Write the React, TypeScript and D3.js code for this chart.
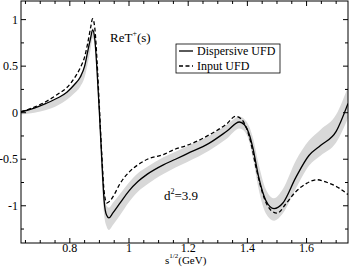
import React from 'react';
import * as d3 from 'd3';

// sqrt(s) grid, GeV
const sVals = [
  0.635, 0.68, 0.72, 0.76, 0.79, 0.815, 0.835, 0.85, 0.86, 0.87, 0.877, 0.884, 0.892, 0.9, 0.908, 0.916, 0.924,
  0.932, 0.945, 0.97, 1.0, 1.03, 1.062, 1.116, 1.157, 1.197, 1.27, 1.33, 1.373, 1.39, 1.405, 1.418, 1.438, 1.462,
  1.49, 1.52, 1.563, 1.608, 1.648, 1.7, 1.74,
];
const dispersive = [
  0.01, 0.05, 0.1, 0.16, 0.22, 0.3, 0.38, 0.5, 0.65, 0.8, 0.89, 0.8, 0.45, 0.0, -0.5, -0.95, -1.1,
  -1.13, -1.08, -0.97, -0.84, -0.74, -0.66, -0.56, -0.5, -0.44, -0.33, -0.2, -0.1, -0.13, -0.22, -0.37, -0.69, -0.94,
  -1.03, -0.97, -0.7, -0.46, -0.35, -0.2, 0.1,
];
const bandLow = [
  -0.02, 0.0, 0.03, 0.08, 0.14, 0.21, 0.28, 0.38, 0.52, 0.68, 0.8, 0.74, 0.35, -0.15, -0.7, -1.1, -1.22,
  -1.26, -1.21, -1.1, -0.96, -0.85, -0.77, -0.66, -0.59, -0.53, -0.41, -0.28, -0.17, -0.2, -0.3, -0.48, -0.82, -1.08,
  -1.16, -1.08, -0.82, -0.57, -0.46, -0.32, -0.06,
];
const bandHigh = [
  0.01, 0.05, 0.1, 0.16, 0.22, 0.31, 0.4, 0.52, 0.67, 0.82, 0.91, 0.86, 0.55, 0.1, -0.35, -0.8, -1.0,
  -1.02, -0.97, -0.87, -0.75, -0.65, -0.58, -0.48, -0.42, -0.36, -0.25, -0.13, -0.04, -0.07, -0.14, -0.26, -0.55, -0.82,
  -0.92, -0.82, -0.52, -0.3, -0.18, -0.02, 0.28,
];

const sInput = [
  0.635, 0.68, 0.72, 0.76, 0.79, 0.815, 0.835, 0.85, 0.86, 0.87, 0.877, 0.884, 0.892, 0.9, 0.908, 0.916, 0.925,
  0.935, 0.95, 0.97, 1.0, 1.03, 1.062, 1.116, 1.157, 1.197, 1.27, 1.33, 1.36, 1.38, 1.395, 1.41, 1.43, 1.455, 1.48,
  1.5, 1.53, 1.56, 1.6, 1.635, 1.67, 1.71, 1.74,
];
const inputUfd = [
  0.01, 0.06, 0.12, 0.2, 0.27, 0.37, 0.48, 0.6, 0.74, 0.91, 1.01, 0.92, 0.55, 0.05, -0.45, -0.85, -0.97,
  -0.95, -0.88, -0.76, -0.64, -0.56, -0.5, -0.45, -0.39, -0.35, -0.24, -0.12, -0.04, -0.07, -0.15, -0.3, -0.6, -0.9,
  -1.05, -1.08, -0.98, -0.86, -0.76, -0.72, -0.75, -0.81, -0.88,
];

const xTicks = [0.8, 1.0, 1.2, 1.4, 1.6];
const xTickLabels = ['0.8', '1', '1.2', '1.4', '1.6'];
const yTicks = [-1, -0.5, 0, 0.5, 1];
const yTickLabels = ['-1', '-0.5', '0', '0.5', '1'];

const W = 349;
const H = 268;
const L = 21;
const R = 348;
const T = 1;
const B = 243;
const font = "'Liberation Serif', 'Times New Roman', Times, 'DejaVu Serif', serif";

export default function App() {
  const x = d3.scaleLinear().domain([0.635, 1.74]).range([L, R]);
  const y = d3.scaleLinear().domain([-1.4, 1.2]).range([B, T]);

  const solidPts = sVals.map((s, i) => [s, dispersive[i]] as [number, number]);
  const dashPts = sInput.map((s, i) => [s, inputUfd[i]] as [number, number]);
  const bandPts = sVals.map((s, i) => ({ s, lo: bandLow[i], hi: bandHigh[i] }));

  const line = d3
    .line<[number, number]>()
    .x(d => x(d[0]))
    .y(d => y(d[1]))
    .curve(d3.curveMonotoneX);
  const area = d3
    .area<{ s: number; lo: number; hi: number }>()
    .x(d => x(d.s))
    .y0(d => y(d.lo))
    .y1(d => y(d.hi))
    .curve(d3.curveMonotoneX);

  const minorX = d3.range(0.65, 1.74, 0.05).filter(v => !xTicks.some(t => Math.abs(t - v) < 1e-6));
  const minorY = d3.range(-1.25, 1.2, 0.25).filter(v => !yTicks.some(t => Math.abs(t - v) < 1e-6));

  const txt = { fontFamily: font };

  return (
    <svg width={W} height={H} style={{ position: 'absolute', left: 0, top: 0 }}>
      <rect width={W} height={H} fill="#fff" />
      <defs>
        <clipPath id="plot">
          <rect x={L} y={T} width={R - L} height={B - T} />
        </clipPath>
      </defs>
      <g clipPath="url(#plot)">
        <path d={area(bandPts) ?? ''} fill="#d8d8d8" />
        <path d={line(dashPts) ?? ''} fill="none" stroke="#000" strokeWidth={1.3} strokeDasharray="4,2.5" />
        <path d={line(solidPts) ?? ''} fill="none" stroke="#000" strokeWidth={1.3} />
      </g>

      {/* frame */}
      <rect x={L} y={T} width={R - L} height={B - T} fill="none" stroke="#000" strokeWidth={1} />

      {/* x ticks, bottom and top */}
      {xTicks.map(t => (
        <g key={'xt' + t}>
          <line x1={x(t)} x2={x(t)} y1={B} y2={B - 5} stroke="#000" />
          <line x1={x(t)} x2={x(t)} y1={T} y2={T + 5} stroke="#000" />
        </g>
      ))}
      {minorX.map(t => (
        <g key={'xm' + t}>
          <line x1={x(t)} x2={x(t)} y1={B} y2={B - 3} stroke="#000" />
          <line x1={x(t)} x2={x(t)} y1={T} y2={T + 3} stroke="#000" />
        </g>
      ))}
      {xTicks.map((t, i) => (
        <text key={'xl' + t} x={x(t)} y={252} fontSize={12} textAnchor="middle" style={txt}>
          {xTickLabels[i]}
        </text>
      ))}

      {/* y ticks, left and right */}
      {yTicks.map(t => (
        <g key={'yt' + t}>
          <line x1={L} x2={L + 5} y1={y(t)} y2={y(t)} stroke="#000" />
          <line x1={R} x2={R - 5} y1={y(t)} y2={y(t)} stroke="#000" />
        </g>
      ))}
      {minorY.map(t => (
        <g key={'ym' + t}>
          <line x1={L} x2={L + 3} y1={y(t)} y2={y(t)} stroke="#000" />
          <line x1={R} x2={R - 3} y1={y(t)} y2={y(t)} stroke="#000" />
        </g>
      ))}
      {yTicks.map((t, i) => (
        <text key={'yl' + t} x={18} y={y(t) + 4} fontSize={12} textAnchor="end" style={txt}>
          {yTickLabels[i]}
        </text>
      ))}

      {/* axis title */}
      <text x={165} y={264} fontSize={11} style={txt}>
        s<tspan dy={-6} fontSize={7}>1/2</tspan>
        <tspan dy={6} fontSize={11}>(GeV)</tspan>
      </text>

      {/* annotations */}
      <text x={110} y={42} fontSize={13} style={txt}>
        ReT<tspan dy={-6} fontSize={8}>+</tspan>
        <tspan dy={6} fontSize={13}>(s)</tspan>
      </text>
      <text x={164} y={200} fontSize={13} style={txt}>
        d<tspan dy={-6} fontSize={8}>2</tspan>
        <tspan dy={6} fontSize={13}>=3.9</tspan>
      </text>

      {/* legend */}
      <rect x={176} y={44} width={104} height={29} fill="#fff" stroke="#000" strokeWidth={0.8} />
      <line x1={179} x2={193} y1={51} y2={51} stroke="#000" strokeWidth={1.3} />
      <text x={197} y={55} fontSize={12} style={txt}>Dispersive UFD</text>
      <line x1={179} x2={193} y1={66} y2={66} stroke="#000" strokeWidth={1.3} strokeDasharray="4,2.5" />
      <text x={197} y={70} fontSize={12} style={txt}>Input UFD</text>
    </svg>
  );
}
